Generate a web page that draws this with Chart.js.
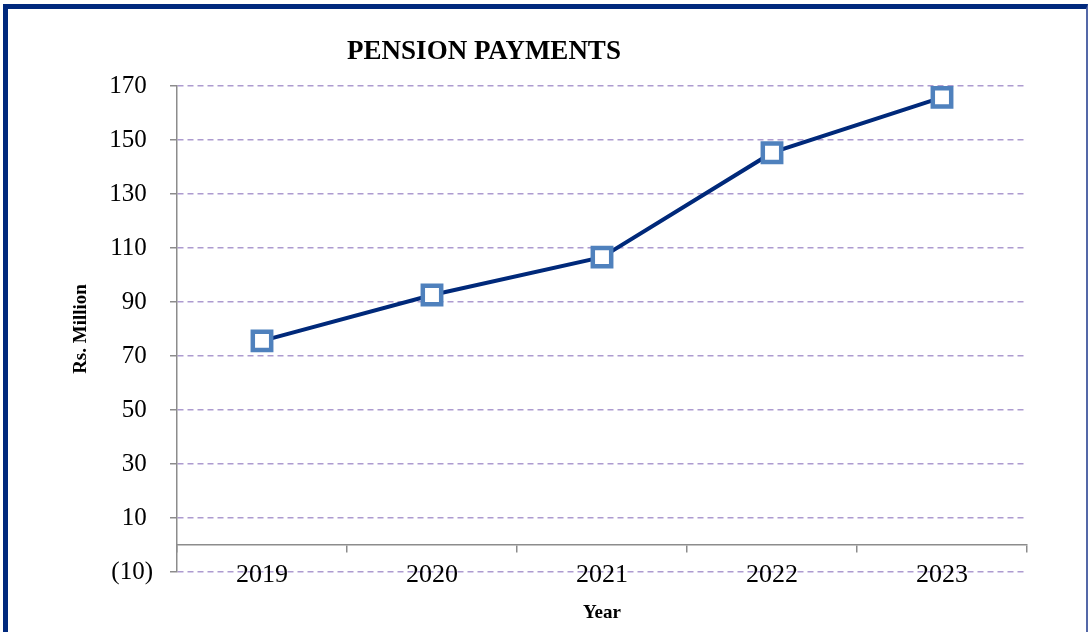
<!DOCTYPE html>
<html>
<head>
<meta charset="utf-8">
<script src="https://cdn.jsdelivr.net/npm/chart.js@4/dist/chart.umd.min.js"></script>
<style>
  html, body { margin: 0; padding: 0; background: #ffffff; overflow: hidden; }
  #wrap { position: relative; width: 1088px; height: 632px; }
  #frame { position: absolute; left: 3px; top: 4px; width: 1078px; height: 700px;
           border-left: 5px solid #00297d; border-top: 5px solid #00297d; border-right: 2px solid #5468a8;
           pointer-events: none; }
  canvas { position: absolute; left: 0; top: 0; }
</style>
</head>
<body>
<div id="wrap">
  <canvas id="c" width="1088" height="632"></canvas>
  <div id="frame"></div>
</div>
<script>
const chartTitle = 'PENSION PAYMENTS';
const years = ['2019', '2020', '2021', '2022', '2023'];
const pensionPayments = [75.6, 92.6, 106.6, 145.3, 165.8];
const yAxisTitle = 'Rs. Million';
const xAxisTitle = 'Year';
const yMin = -10, yMax = 170, yStep = 20;

const serif = "'Liberation Serif', 'Times New Roman', serif";

const titlePlugin = {
  id: 'fixedTitle',
  afterDraw(chart) {
    const ctx = chart.ctx;
    ctx.save();
    ctx.font = 'bold 27px ' + serif;
    ctx.fillStyle = '#000000';
    ctx.textAlign = 'center';
    ctx.textBaseline = 'alphabetic';
    ctx.fillText(chartTitle, 484, 59);
    ctx.restore();
  }
};

new Chart(document.getElementById('c'), {
  type: 'line',
  data: {
    labels: years,
    datasets: [{
      data: pensionPayments,
      borderColor: '#00297a',
      borderWidth: 4,
      pointStyle: 'rect',
      pointRadius: 13,
      pointHoverRadius: 13,
      pointBorderWidth: 4.5,
      pointBorderColor: '#4f81bd',
      pointBackgroundColor: '#ffffff',
      tension: 0,
      fill: false
    }]
  },
  options: {
    responsive: false,
    animation: false,
    events: [],
    layout: { padding: { left: 60, right: 61, top: 86, bottom: 60 } },
    plugins: { legend: { display: false }, title: { display: false }, tooltip: { enabled: false } },
    scales: {
      x: {
        type: 'category',
        position: { y: 0 },
        offset: true,
        grid: { display: true, drawOnChartArea: false, drawTicks: true, tickLength: 7, offset: true,
                color: '#8c8c8c', tickColor: '#8c8c8c', lineWidth: 1.5 },
        border: { display: true, color: '#8c8c8c', width: 1.5 },
        ticks: { color: '#000000', font: { family: serif, size: 26 }, padding: 8, maxRotation: 0 },
        title: { display: true, text: xAxisTitle, color: '#000000',
                 font: { family: serif, size: 19, weight: 'bold' }, padding: { top: 2, bottom: 0 } }
      },
      y: {
        min: yMin, max: yMax,
        afterFit(scale) { scale.width = 117; },
        ticks: {
          stepSize: yStep,
          color: '#000000',
          font: { family: serif, size: 25 },
          padding: 17,
          callback: (v) => v < 0 ? '(' + Math.abs(v) + ')' : v + ' '
        },
        grid: { color: '#ad9bd0', lineWidth: 1.5, tickLength: 7, tickColor: '#8c8c8c',
                tickBorderDash: [], tickWidth: 1.5 },
        border: { display: true, color: '#8c8c8c', width: 1.5, dash: [6, 4] },
        title: { display: true, text: yAxisTitle, color: '#000000',
                 font: { family: serif, size: 19, weight: 'bold' }, padding: { top: 10, bottom: 0 } }
      }
    }
  },
  plugins: [titlePlugin]
});
</script>
</body>
</html>
